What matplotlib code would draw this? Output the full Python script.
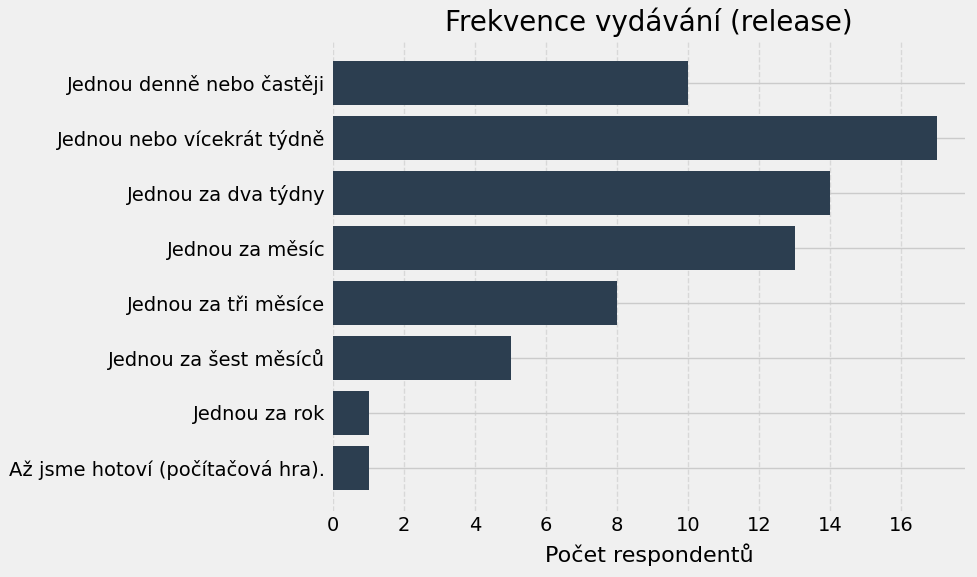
import matplotlib

matplotlib.use("Agg")
import matplotlib.pyplot as plt

categories = [
    "Jednou denně nebo častěji",
    "Jednou nebo vícekrát týdně",
    "Jednou za dva týdny",
    "Jednou za měsíc",
    "Jednou za tři měsíce",
    "Jednou za šest měsíců",
    "Jednou za rok",
    "Až jsme hotoví (počítačová hra).",
]
counts = [10, 17, 14, 13, 8, 5, 1, 1]
x_ticks = [0, 2, 4, 6, 8, 10, 12, 14, 16]

plt.style.use("fivethirtyeight")
plt.rcParams["font.family"] = ["DejaVu Sans"]

fig = plt.figure(figsize=(9.77, 5.77), dpi=100)
fig.patch.set_facecolor("#f0f0f0")
ax = fig.add_axes([0.341, 0.114, 0.647, 0.817])
ax.set_facecolor("#f0f0f0")

pos = list(range(len(categories)))
ax.barh(pos, counts, height=0.8, color="#2c3e50", zorder=3)
ax.set_yticks(pos)
ax.set_yticklabels(categories, fontsize=14)
ax.invert_yaxis()
ax.set_ylim(len(categories) - 1 + 0.79, -0.79)
ax.set_xlim(0, 17.8)
ax.set_xticks(x_ticks)
ax.tick_params(axis="x", labelsize=14)
ax.tick_params(length=0)
ax.tick_params(axis="y", pad=5.7)

ax.grid(False)
ax.xaxis.grid(True, linestyle="--", color="#d8d8d8", linewidth=1.0, zorder=0)
ax.yaxis.grid(True, linestyle="-", color="#cbcbcb", linewidth=1.0, zorder=0)
ax.set_axisbelow(True)
for s in ax.spines.values():
    s.set_visible(False)

ax.set_xlabel("Počet respondentů", fontsize=16, labelpad=6)
ax.set_title("Frekvence vydávání (release)", fontsize=20)

fig.savefig("out.png", dpi=100, facecolor=fig.get_facecolor())
